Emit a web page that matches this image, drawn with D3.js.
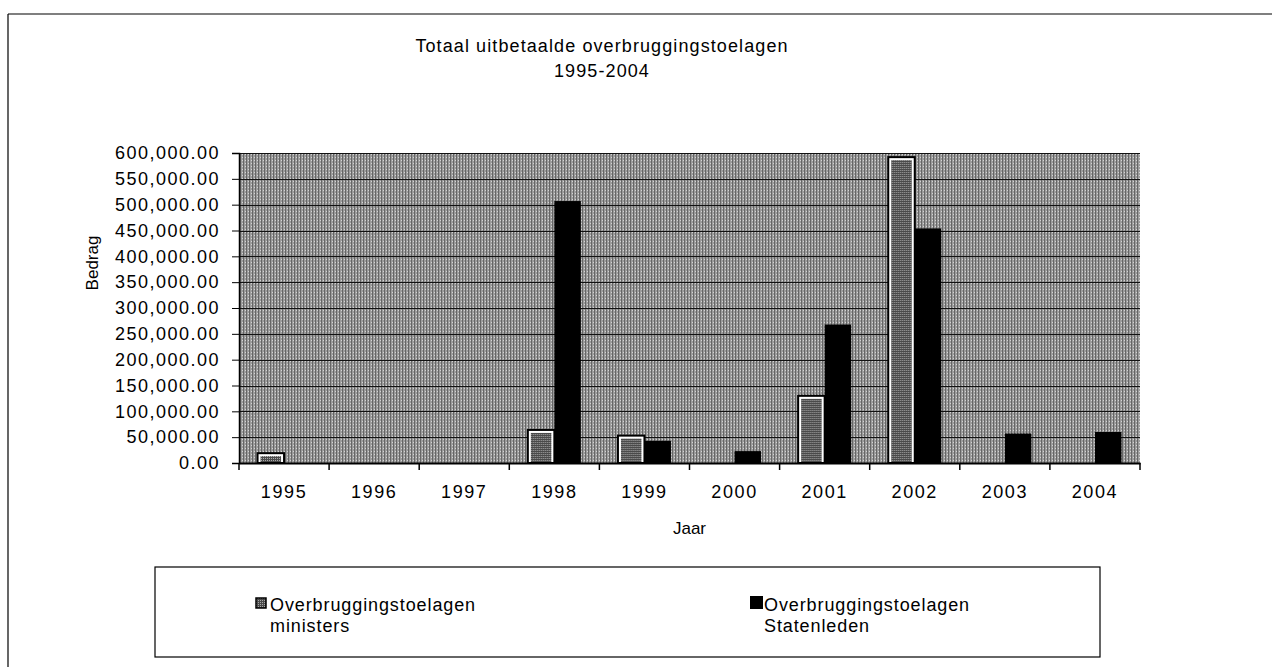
<!DOCTYPE html>
<html>
<head>
<meta charset="utf-8">
<script src="https://cdn.jsdelivr.net/npm/d3@7"></script>
<style>
  body { margin: 0; background: #fff; }
  text { font-family: "Liberation Sans", Arial, sans-serif; fill: #000; }
</style>
</head>
<body>
<div id="chart"></div>
<script>
// Data
var years = ["1995", "1996", "1997", "1998", "1999", "2000", "2001", "2002", "2003", "2004"];
var series = ["Overbruggingstoelagen ministers", "Overbruggingstoelagen Statenleden"];
var ministers = [19000, 0, 0, 64000, 53000, 0, 130000, 592000, 0, 0];
var statenleden = [0, 0, 0, 507000, 43000, 23000, 268000, 454000, 57000, 60000];
var yTicks = [0, 50000, 100000, 150000, 200000, 250000, 300000, 350000, 400000, 450000, 500000, 550000, 600000];

function init() {

    var w = 1272, h = 667;
    var pLeft = 239, pRight = 1140, pTop = 153, pBottom = 463;

    var svg = d3.select("#chart").append("svg")
        .attr("width", w).attr("height", h);

    var defs = svg.append("defs");

    // grey halftone look of the plot area
    var bg = defs.append("pattern").attr("id", "bgPat")
        .attr("patternUnits", "userSpaceOnUse").attr("width", 3).attr("height", 3);
    bg.append("rect").attr("width", 3).attr("height", 3).attr("fill", "#9c9c9c");
    bg.append("rect").attr("x", 0).attr("width", 1).attr("height", 3).attr("fill", "#666");
    bg.append("rect").attr("x", 2).attr("y", 1).attr("width", 1).attr("height", 1).attr("fill", "#d4d4d4");

    // darker dotted fill for the ministers bars
    var mp = defs.append("pattern").attr("id", "minPat")
        .attr("patternUnits", "userSpaceOnUse").attr("width", 2).attr("height", 2);
    mp.append("rect").attr("width", 2).attr("height", 2).attr("fill", "#4a4a4a");
    mp.append("rect").attr("width", 1).attr("height", 1).attr("fill", "#a8a8a8");

    // outer chart border
    svg.append("line").attr("x1", 8).attr("y1", 14).attr("x2", w).attr("y2", 14)
        .attr("stroke", "#000").attr("stroke-width", 1.2);
    svg.append("line").attr("x1", 8).attr("y1", 14).attr("x2", 8).attr("y2", h)
        .attr("stroke", "#000").attr("stroke-width", 1.2);

    // title
    var title = svg.append("text").attr("text-anchor", "middle")
        .style("font-size", "18px").style("letter-spacing", "1.1px");
    title.append("tspan").attr("x", 602).attr("y", 52).text("Totaal uitbetaalde overbruggingstoelagen");
    title.append("tspan").attr("x", 602).attr("y", 77).text("1995-2004");

    // scales
    var x0 = d3.scaleBand().domain(years).range([pLeft, pRight]);
    var x1 = d3.scaleBand().domain(series).range([0, x0.bandwidth()])
        .paddingOuter(0.7).paddingInner(0);
    var y = d3.scaleLinear().domain([0, 600000]).range([pBottom, pTop]);

    // plot area
    svg.append("rect").attr("x", pLeft).attr("y", pTop)
        .attr("width", pRight - pLeft).attr("height", pBottom - pTop)
        .attr("fill", "url(#bgPat)");

    // gridlines
    svg.append("g").selectAll("line").data(yTicks.slice(1)).enter().append("line")
        .attr("x1", pLeft).attr("x2", pRight)
        .attr("y1", function(d) { return Math.round(y(d)) + 0.5; })
        .attr("y2", function(d) { return Math.round(y(d)) + 0.5; })
        .attr("stroke", "#111").attr("stroke-width", 1.2);

    // bars
    var rows = years.map(function(yr, i) {
        return { year: yr, values: [ministers[i], statenleden[i]] };
    });

    var groups = svg.append("g").selectAll("g").data(rows).enter().append("g")
        .attr("transform", function(d) { return "translate(" + x0(d.year) + ",0)"; });

    groups.each(function(d) {
        var g = d3.select(this);
        var vm = d.values[0], vs = d.values[1];
        if (vm > 0) {
            g.append("rect")
                .attr("x", x1(series[0])).attr("y", y(vm))
                .attr("width", x1.bandwidth()).attr("height", y(0) - y(vm))
                .attr("fill", "#fff").attr("stroke", "#000").attr("stroke-width", 2);
            g.append("rect")
                .attr("x", x1(series[0]) + 3).attr("y", y(vm) + 3)
                .attr("width", x1.bandwidth() - 6).attr("height", Math.max(0, y(0) - y(vm) - 4))
                .attr("fill", "url(#minPat)");
        }
        if (vs > 0) {
            g.append("rect")
                .attr("x", x1(series[1])).attr("y", y(vs))
                .attr("width", x1.bandwidth()).attr("height", y(0) - y(vs))
                .attr("fill", "#000");
        }
    });

    // y axis
    var yAxis = d3.axisLeft(y).tickValues(yTicks).tickFormat(d3.format(",.2f"))
        .tickSize(7).tickPadding(12);
    var gy = svg.append("g").attr("transform", "translate(" + pLeft + ",0)").call(yAxis);
    gy.select(".domain").attr("stroke-width", 1.5);
    gy.selectAll("text").style("font-size", "18px").style("letter-spacing", "1.5px")
        .attr("font-family", null);

    // x axis: ticks between categories
    var xAxis = d3.axisBottom(x0).tickSize(0).tickPadding(22);
    var gx = svg.append("g").attr("transform", "translate(0," + pBottom + ")").call(xAxis);
    gx.select(".domain").attr("stroke-width", 1.8);
    gx.selectAll("text").style("font-size", "18px").style("letter-spacing", "1.6px")
        .attr("font-family", null);
    gx.selectAll(".sep").data(years.concat(["end"])).enter().append("line")
        .attr("class", "sep")
        .attr("x1", function(d, i) { return pLeft + i * x0.step(); })
        .attr("x2", function(d, i) { return pLeft + i * x0.step(); })
        .attr("y1", 0).attr("y2", 7).attr("stroke", "#000").attr("stroke-width", 1.5);

    // axis titles
    svg.append("text").attr("x", (pLeft + pRight) / 2).attr("y", 534)
        .attr("text-anchor", "middle").style("font-size", "17px").text("Jaar");
    svg.append("text").attr("transform", "translate(98,263) rotate(-90)")
        .attr("text-anchor", "middle").style("font-size", "17px").text("Bedrag");

    // legend
    svg.append("rect").attr("x", 155).attr("y", 567).attr("width", 945).attr("height", 90)
        .attr("fill", "none").attr("stroke", "#000").attr("stroke-width", 1.2);

    var legendPos = [256, 750];
    series.forEach(function(s, i) {
        var lx = legendPos[i];
        if (i === 0) {
            svg.append("rect").attr("x", lx).attr("y", 598).attr("width", 10).attr("height", 10)
                .attr("fill", "url(#minPat)").attr("stroke", "#000").attr("stroke-width", 1.5);
        } else {
            svg.append("rect").attr("x", lx).attr("y", 596).attr("width", 13).attr("height", 13)
                .attr("fill", "#000");
        }
        var words = s.split(" ");
        var t = svg.append("text").style("font-size", "18px").style("letter-spacing", "0.9px");
        t.append("tspan").attr("x", lx + 14).attr("y", 611).text(words[0]);
        t.append("tspan").attr("x", lx + 14).attr("y", 632).text(words[1]);
    });
}

window.onload = init;
</script>
</body>
</html>
